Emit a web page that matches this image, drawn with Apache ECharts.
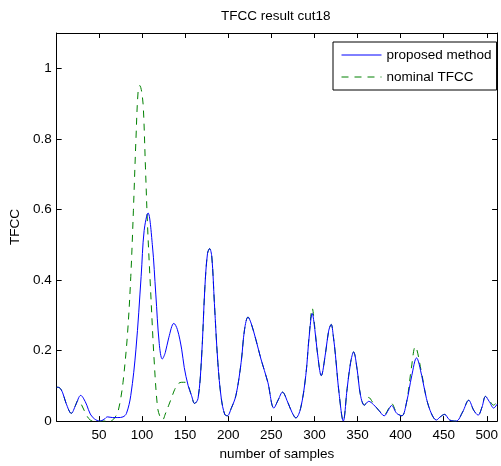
<!DOCTYPE html>
<html>
<head>
<meta charset="utf-8">
<script src="https://cdn.jsdelivr.net/npm/echarts@6/dist/echarts.min.js"></script>
<style>html,body{margin:0;padding:0;background:#fff;}#c{width:501px;height:466px;}</style>
</head>
<body>
<div id="c"></div>
<script>
// ---- data ----
const titleText = 'TFCC result cut18';
const xName = 'number of samples';
const yName = 'TFCC';
const seriesNames = ['proposed method', 'nominal TFCC'];
const xTicks = [50, 100, 150, 200, 250, 300, 350, 400, 450, 500];
const yTicks = [0, 0.2, 0.4, 0.6, 0.8, 1];

const proposedX = [1,4,8,12,18,23,29,32,36,40,45,51,56,60,66,72,78,82,87,93,99,102.5,107,112,116,120,123.5,127,131,137,141,146,149,153.5,157.5,161,165,169,173,176,178.5,181,184,188,192,196,199,203.5,209,215,219,223,226.5,232,238,246,253,258,263,269,274,278.5,284,290,294,297.5,300.5,303.5,308,313,316.5,319.5,322,324.5,328.5,333.5,338,342,345.5,349.5,353.5,358,363,368.5,374.5,381,386,389.5,395.5,401.5,407,413,418.5,424.5,430,436,441.5,446,451,457,464.5,472,479,485,490,494.5,498.5,503,508,512];
const proposedY = [0.096,0.095,0.08,0.05,0.022,0.045,0.073,0.065,0.045,0.02,0.006,0.0,0.005,0.012,0.01,0.01,0.012,0.022,0.073,0.204,0.41,0.54,0.59,0.5,0.36,0.22,0.176,0.194,0.236,0.277,0.26,0.204,0.152,0.101,0.072,0.05,0.064,0.176,0.381,0.475,0.489,0.465,0.334,0.166,0.064,0.019,0.015,0.036,0.073,0.166,0.26,0.295,0.278,0.232,0.176,0.11,0.037,0.06,0.082,0.054,0.025,0.009,0.036,0.129,0.241,0.305,0.26,0.194,0.129,0.194,0.255,0.274,0.24,0.185,0.082,0.0,0.092,0.166,0.196,0.148,0.073,0.045,0.056,0.047,0.031,0.015,0.032,0.044,0.022,0.015,0.054,0.129,0.179,0.129,0.064,0.02,0.003,0.012,0.019,0.003,0.0,0.026,0.059,0.03,0.017,0.04,0.07,0.055,0.037,0.048];

const nominalX = [1,4,8,12,18,22,26,29,33,36,40,45,55,65,69,72,75,78,83,87,90,93,95.5,97.5,99.5,101.5,104,106.5,110,114,118,121,124,127,131,134,138,142,146,150,153.5,157.5,161,165,169,173,176,178.5,181,184,188,192,196,199,203.5,209,215,219,223,226.5,232,238,246,253,258,263,269,274,278.5,284,290,294,297.5,300.5,303.5,308,313,316.5,319.5,322,324.5,328.5,333.5,338,342,345.5,349.5,353.5,358,363,368.5,374.5,381,386,389.5,395.5,401.5,407,412.5,417,424.5,430,436,441.5,446,451,457,464.5,472,479,485,490,494.5,498.5,503,508,512];
const nominalY = [0.096,0.095,0.08,0.05,0.022,0.04,0.059,0.05,0.03,0.015,0.003,0.0,0.0,0.002,0.012,0.026,0.06,0.11,0.241,0.41,0.596,0.8,0.935,0.951,0.935,0.89,0.72,0.55,0.37,0.176,0.04,0.012,0.004,0.02,0.045,0.064,0.09,0.106,0.11,0.11,0.101,0.072,0.05,0.064,0.176,0.381,0.475,0.489,0.465,0.334,0.166,0.064,0.019,0.015,0.036,0.073,0.166,0.26,0.295,0.278,0.232,0.176,0.11,0.037,0.06,0.082,0.054,0.025,0.009,0.036,0.129,0.245,0.32,0.265,0.194,0.129,0.194,0.255,0.274,0.24,0.185,0.082,0.0,0.092,0.166,0.196,0.148,0.073,0.045,0.067,0.05,0.031,0.018,0.035,0.05,0.024,0.015,0.054,0.15,0.211,0.135,0.064,0.02,0.003,0.012,0.019,0.003,0.0,0.026,0.059,0.03,0.017,0.04,0.07,0.058,0.045,0.059];

// ---- chart ----
const FONT = '"Liberation Sans", Arial, Helvetica, sans-serif';
const FS = 13.5;
const pair = (xs, ys) => xs.map((x, i) => [x, ys[i]]);

const chart = echarts.init(document.getElementById('c'), null, {renderer: 'canvas'});
const axisLine = {show: true, onZero: false, lineStyle: {color: '#000', width: 1}};
const tickStyle = {color: '#000', width: 1};

chart.setOption({
  animation: false,
  backgroundColor: '#fff',
  textStyle: {fontFamily: FONT},
  title: {
    text: titleText, left: 221, top: 9, padding: 0,
    textStyle: {fontFamily: FONT, fontSize: FS, fontWeight: 'normal', color: '#000'}
  },
  grid: {left: 55, right: 1, top: 33, bottom: 40, containLabel: false},
  legend: {
    left: 333, top: 42, orient: 'vertical',
    backgroundColor: '#fff', borderColor: '#000', borderWidth: 1, borderRadius: 0,
    padding: [6, 5, 6, 8], itemWidth: 40, itemHeight: 14, itemGap: 8,
    itemStyle: {opacity: 0},
    lineStyle: {width: 1},
    textStyle: {fontFamily: FONT, fontSize: FS, color: '#000'},
    data: seriesNames
  },
  xAxis: [
    {
      type: 'value', min: 1, max: 512, position: 'bottom',
      name: xName, nameLocation: 'middle', nameGap: 25,
      nameTextStyle: {fontFamily: FONT, fontSize: FS, color: '#000'},
      axisLine: axisLine,
      axisTick: {show: true, inside: true, length: 5, customValues: xTicks, lineStyle: tickStyle},
      axisLabel: {customValues: xTicks, margin: 7, color: '#000', fontFamily: FONT, fontSize: FS},
      splitLine: {show: false}
    },
    {
      type: 'value', min: 1, max: 512, position: 'top',
      axisLine: axisLine,
      axisTick: {show: true, inside: true, length: 5, customValues: xTicks, lineStyle: tickStyle},
      axisLabel: {show: false},
      splitLine: {show: false}
    }
  ],
  yAxis: [
    {
      type: 'value', min: 0, max: 1.1, position: 'left',
      name: yName, nameLocation: 'middle', nameGap: 25, nameRotate: 90,
      nameTextStyle: {fontFamily: FONT, fontSize: FS, color: '#000'},
      axisLine: axisLine,
      axisTick: {show: true, inside: true, length: 5, customValues: yTicks, lineStyle: tickStyle},
      axisLabel: {customValues: yTicks, margin: 5, color: '#000', fontFamily: FONT, fontSize: FS},
      splitLine: {show: false}
    },
    {
      type: 'value', min: 0, max: 1.1, position: 'right',
      axisLine: axisLine,
      axisTick: {show: true, inside: true, length: 5, customValues: yTicks, lineStyle: tickStyle},
      axisLabel: {show: false},
      splitLine: {show: false}
    }
  ],
  series: [
    {
      name: seriesNames[0], type: 'line', xAxisIndex: 0, yAxisIndex: 0,
      data: pair(proposedX, proposedY), showSymbol: false, symbol: 'none',
      smooth: 0.35, z: 3,
      lineStyle: {color: '#0000ff', width: 1}, itemStyle: {color: '#0000ff'}
    },
    {
      name: seriesNames[1], type: 'line', xAxisIndex: 0, yAxisIndex: 0,
      data: pair(nominalX, nominalY), showSymbol: false, symbol: 'none',
      smooth: 0.35, z: 2,
      lineStyle: {color: '#008000', width: 1, type: [7, 6]}, itemStyle: {color: '#008000'}
    }
  ]
});
</script>
</body>
</html>
